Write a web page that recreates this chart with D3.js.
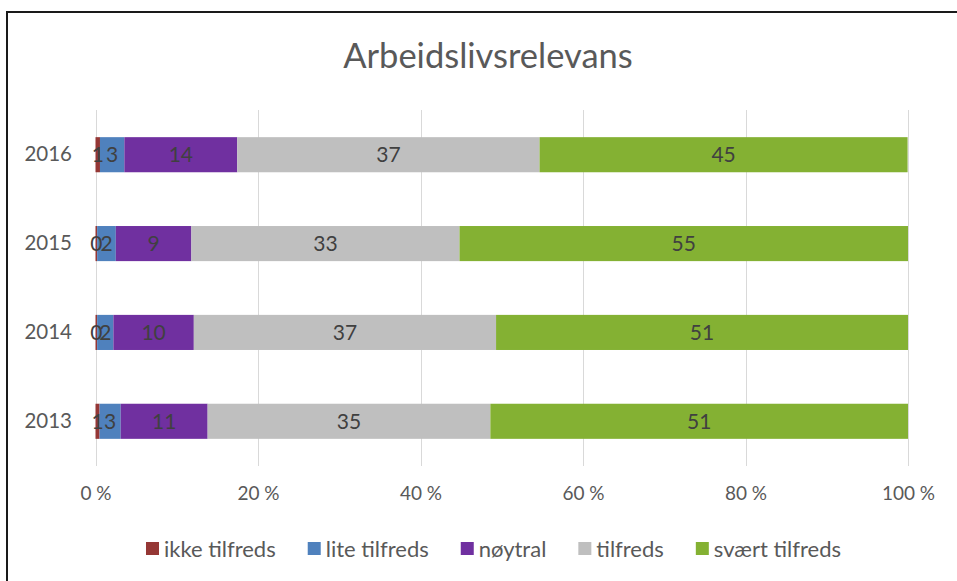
<!DOCTYPE html>
<html>
<head>
<meta charset="utf-8">
<script src="https://cdn.jsdelivr.net/npm/d3@7"></script>
<style>
  html, body { margin: 0; padding: 0; background: #fff; }
  svg { display: block; }
  text { font-family: Lato, "Open Sans", sans-serif; }
</style>
</head>
<body>
<svg id="chart" width="957" height="581"></svg>
<script>
// ---- data ----
const years = ["2016", "2015", "2014", "2013"];
const seriesNames = ["ikke tilfreds", "lite tilfreds", "nøytral", "tilfreds", "svært tilfreds"];
const ikkeTilfreds  = [0.55, 0.2, 0.2, 0.5];
const liteTilfreds  = [3.0, 2.3, 2.0, 2.6];
const noytral       = [13.9, 9.3, 9.9, 10.7];
const tilfreds      = [37.2, 33.0, 37.2, 34.8];
const svaertTilfreds= [45.3, 55.2, 50.7, 51.4];
const xTicks = [0, 20, 40, 60, 80, 100];
const colors = ["#953735", "#4F81BD", "#7030A0", "#BFBFBF", "#84B133"];

const seriesValues = [ikkeTilfreds, liteTilfreds, noytral, tilfreds, svaertTilfreds];
const rows = years.map((y, i) => {
  const r = { year: y };
  seriesNames.forEach((s, k) => r[s] = seriesValues[k][i]);
  return r;
});

const svg = d3.select("#chart");

// frame (top and left border)
svg.append("path").attr("d", "M7,581 L7,12 L957,12")
  .attr("fill", "none").attr("stroke", "#1a1a1a").attr("stroke-width", 2);

// title
svg.append("text").attr("x", 488).attr("y", 68).attr("text-anchor", "middle")
  .attr("font-size", 34.5).attr("fill", "#595959").text("Arbeidslivsrelevans");

const x = d3.scaleLinear().domain([0, 100]).range([95.5, 908]);
const y = d3.scaleBand().domain(years).range([110.5, 465.5]).paddingInner(0.605).paddingOuter(0.3);

// gridlines
svg.append("g").selectAll("line").data(xTicks).join("line")
  .attr("x1", d => Math.round(x(d)) + 0.5).attr("x2", d => Math.round(x(d)) + 0.5)
  .attr("y1", 110).attr("y2", 466)
  .attr("stroke", "#D9D9D9").attr("stroke-width", 1);

// x axis labels
const xAxis = d3.axisBottom(x).tickValues(xTicks).tickFormat(d => d + " %").tickSize(0).tickPadding(0);
const gx = svg.append("g").attr("transform", "translate(0,486)").call(xAxis);
gx.select(".domain").remove();
gx.selectAll("text").attr("font-size", 19).attr("fill", "#595959").attr("font-family", "Lato, sans-serif");

// y axis labels
const yAxis = d3.axisLeft(y).tickSize(0).tickPadding(0);
const gy = svg.append("g").attr("transform", "translate(72,0)").call(yAxis);
gy.select(".domain").remove();
gy.selectAll("text").attr("font-size", 20.5).attr("fill", "#595959").attr("font-family", "Lato, sans-serif");

// stacked bars
const stack = d3.stack().keys(seriesNames);
const stacked = stack(rows);
const layers = svg.append("g").selectAll("g").data(stacked).join("g")
  .attr("fill", (d, i) => colors[i]);
layers.selectAll("rect").data(d => d).join("rect")
  .attr("x", d => x(d[0]))
  .attr("width", d => x(d[1]) - x(d[0]))
  .attr("y", d => y(d.data.year))
  .attr("height", y.bandwidth());

// labels
const lab = svg.append("g").selectAll("g").data(stacked).join("g");
lab.selectAll("text").data(d => d).join("text")
  .attr("x", d => (x(d[0]) + x(d[1])) / 2)
  .attr("y", d => y(d.data.year) + y.bandwidth() / 2)
  .attr("dy", "0.36em")
  .attr("text-anchor", "middle")
  .attr("font-size", 21).attr("fill", "#404040")
  .text(d => Math.round(d[1] - d[0]));

// legend
const legend = svg.append("g").attr("transform", "translate(0,549)");
const items = legend.selectAll("g").data(seriesNames).join("g");
items.append("rect").attr("width", 13).attr("height", 13).attr("y", -7)
  .attr("fill", (d, i) => colors[i]);
items.append("text").attr("x", 18).attr("dy", "0.36em")
  .attr("font-size", 22).attr("fill", "#595959").text(d => d);
let cx = 0;
const gap = 32;
const pos = [];
items.each(function() {
  const w = 18 + this.querySelector("text").getComputedTextLength();
  pos.push(cx);
  cx += w + gap;
});
const total = cx - gap;
const start = 493.5 - total / 2;
items.attr("transform", (d, i) => `translate(${start + pos[i]},0)`);
</script>
</body>
</html>
